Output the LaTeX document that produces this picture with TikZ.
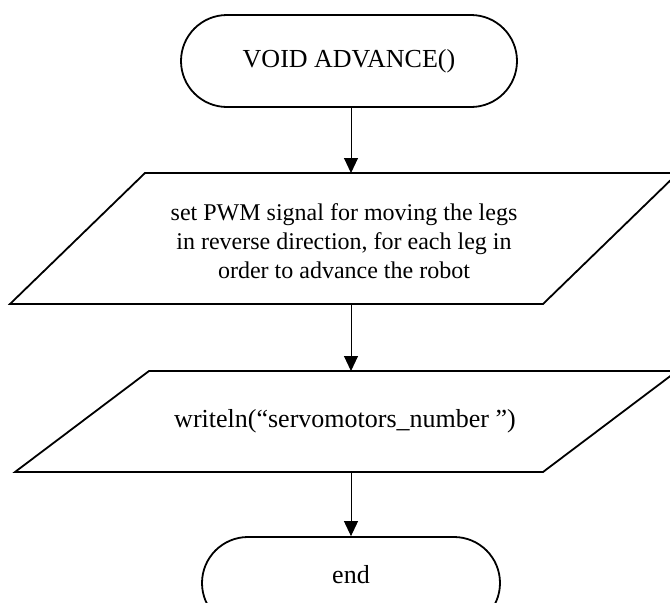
\documentclass[tikz,border=0pt]{standalone}
\usepackage{fontspec}
\setmainfont{Liberation Serif}
\usetikzlibrary{arrows.meta}
\begin{document}
\begin{tikzpicture}[x=1pt,y=-1pt,
  shapeline/.style={line width=1.8pt, line join=miter},
  flowarrow/.style={line width=1pt, -{Triangle[length=15pt,width=14pt]}},
  term/.style={shapeline, draw, rectangle, rounded corners=46pt, minimum height=92pt, inner sep=0pt},
  txt/.style={font=\fontsize{26}{30}\selectfont, align=center, inner sep=0pt}]
\useasboundingbox (0,0) rectangle (670,603);
\clip (0,0) rectangle (670,603);
% start terminator
\node[term, minimum width=336pt, font=\fontsize{26}{30}\selectfont] (start) at (349,61) {VOID ADVANCE()};
% parallelogram 1
\coordinate (p1bl) at (10,304);
\coordinate (p1tl) at (145,173);
\coordinate (p1tr) at (678,173);
\coordinate (p1br) at (543,304);
\draw[shapeline] (p1bl) -- (p1tl) -- (p1tr) -- (p1br) -- cycle;
\node[txt, font=\fontsize{24}{29}\selectfont] (p1) at (344,241) {set PWM signal for moving the legs\\in reverse direction, for each leg in\\order to advance the robot};
\coordinate (p1top) at (351,173);
\coordinate (p1bot) at (351,304);
% parallelogram 2
\coordinate (p2bl) at (15,472);
\coordinate (p2tl) at (149,371);
\coordinate (p2tr) at (677,371);
\coordinate (p2br) at (543,472);
\draw[shapeline] (p2bl) -- (p2tl) -- (p2tr) -- (p2br) -- cycle;
\node[txt] (p2) at (345,421) {writeln(“servomotors\_number ”)};
\coordinate (p2top) at (351,371);
\coordinate (p2bot) at (351,472);
% end terminator
\node[term, minimum width=298pt] (stop) at (351,583) {};
\node[txt] (stoptext) at (351,575) {end};
% connectors
\draw[flowarrow] (start.south -| p1top) -- (p1top);
\draw[flowarrow] (p1bot) -- (p2top);
\draw[flowarrow] (p2bot) -- (stop.north);
\end{tikzpicture}
\end{document}
